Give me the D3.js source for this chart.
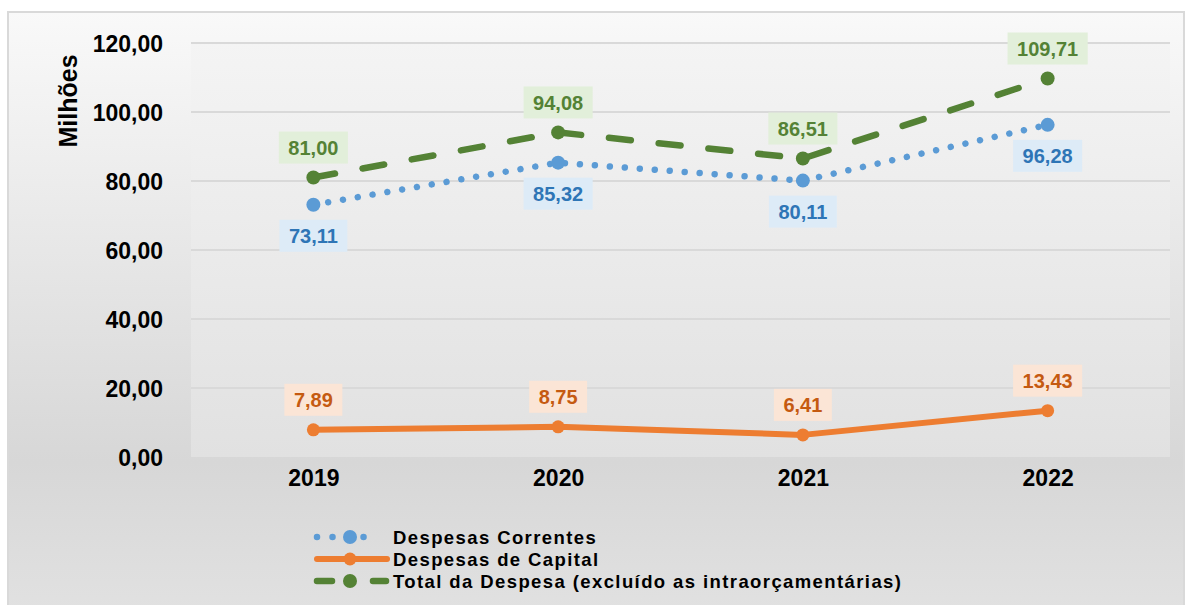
<!DOCTYPE html>
<html><head><meta charset="utf-8">
<script src="https://cdn.jsdelivr.net/npm/d3@7"></script>
<style>html,body{margin:0;padding:0;background:#fff;}svg{display:block;font-family:"Liberation Sans",Arial,sans-serif;}</style>
</head><body>
<svg id="c" width="1185" height="605"></svg>
<script>
const years = ["2019","2020","2021","2022"];
const correntes = [73.11, 85.32, 80.11, 96.28];
const capital = [7.89, 8.75, 6.41, 13.43];
const total = [81.00, 94.08, 86.51, 109.71];
const yTicks = [0,20,40,60,80,100,120];
const seriesNames = ["Despesas Correntes","Despesas de Capital","Total da Despesa (excluído as intraorçamentárias)"];

const svg = d3.select("#c");
const defs = svg.append("defs");
const g1 = defs.append("linearGradient").attr("id","bgOuter").attr("x1",0).attr("y1",0).attr("x2",0).attr("y2",1);
g1.append("stop").attr("offset","0%").attr("stop-color","#f9f9f9");
g1.append("stop").attr("offset","75%").attr("stop-color","#d7d7d7");
g1.append("stop").attr("offset","100%").attr("stop-color","#e1e1e1");
const g2 = defs.append("linearGradient").attr("id","bgPlot").attr("x1",0).attr("y1",0).attr("x2",0).attr("y2",1);
g2.append("stop").attr("offset","0%").attr("stop-color","#f4f4f4");
g2.append("stop").attr("offset","100%").attr("stop-color","#e1e1e1");

svg.append("rect").attr("x",8).attr("y",12).attr("width",1176).attr("height",600)
  .attr("fill","url(#bgOuter)").attr("stroke","#d9d9d9").attr("stroke-width",2);

const L = 191, R = 1170, T = 43, B = 457;
svg.append("rect").attr("x",L).attr("y",T).attr("width",R-L).attr("height",B-T).attr("fill","url(#bgPlot)");

const x = d3.scalePoint().domain(years).range([L,R]).padding(0.5);
const y = d3.scaleLinear().domain([0,120]).range([B,T]);

// gridlines
svg.append("g").selectAll("line").data(yTicks.filter(d=>d>0)).join("line")
  .attr("x1",L).attr("x2",R).attr("y1",d=>y(d)).attr("y2",d=>y(d))
  .attr("stroke","#d9d9d9").attr("stroke-width",2);

// y axis
const yAxis = svg.append("g").attr("transform",`translate(${163},0)`)
  .call(d3.axisLeft(y).tickValues(yTicks).tickSize(0).tickPadding(0)
    .tickFormat(d=>d3.format(".2f")(d).replace(".",",")));
yAxis.select(".domain").remove();
yAxis.selectAll("text").attr("font-size",23).attr("font-weight","bold").attr("fill","#000")
  .attr("font-family","Liberation Sans, Arial, sans-serif").attr("dy","0.36em");

// x axis
const xAxis = svg.append("g").attr("transform",`translate(0,${B})`)
  .call(d3.axisBottom(x).tickSize(0).tickPadding(0));
xAxis.select(".domain").remove();
xAxis.selectAll("text").attr("font-size",23).attr("font-weight","bold").attr("fill","#000")
  .attr("font-family","Liberation Sans, Arial, sans-serif").attr("dy","1.24em");

// y title
svg.append("text").attr("transform","translate(77,101) rotate(-90)")
  .attr("text-anchor","middle").attr("font-size",25).attr("font-weight","bold").text("Milhões");

const styles = [
  {data:correntes, color:"#5b9bd5", dash:"0.01 15", width:6.5, r:7, lab:"#2e75b6", box:"#ddebf7", off:31,
   lx1:317, lx2:379, ldash:"0.01 15.5"},
  {data:capital, color:"#ed7d31", dash:null, width:6, r:6.5, lab:"#c55a11", box:"#fbe5d6", off:-30,
   lx1:317, lx2:387, ldash:null},
  {data:total, color:"#548235", dash:"22 28", width:6.5, r:7, lab:"#548235", box:"#e2efda", off:-30,
   lx1:317, lx2:386, ldash:"15 41 13"}
];
const line = d3.line().x((d,i)=>x(years[i])).y(d=>y(d));

styles.forEach(s=>{
  svg.append("path").datum(s.data).attr("d",line).attr("fill","none")
    .attr("stroke",s.color).attr("stroke-width",s.width).attr("stroke-linecap","round")
    .attr("stroke-linejoin","round").attr("stroke-dasharray",s.dash);
  svg.append("g").selectAll("circle").data(s.data).join("circle")
    .attr("cx",(d,i)=>x(years[i])).attr("cy",d=>y(d)).attr("r",s.r).attr("fill",s.color);
});

// data labels
styles.forEach(s=>{
  const g = svg.append("g");
  s.data.forEach((v,i)=>{
    const cx = x(years[i]), cy = y(v)+s.off;
    const lg = g.append("g");
    const r = lg.append("rect").attr("fill",s.box);
    const t = lg.append("text").attr("x",cx).attr("y",cy).attr("dy","0.36em")
      .attr("text-anchor","middle").attr("font-size",20).attr("font-weight","bold")
      .attr("fill",s.lab).text(d3.format(".2f")(v).replace(".",","));
    const w = t.node().getComputedTextLength()+19;
    r.attr("x",cx-w/2).attr("y",cy-16).attr("width",w).attr("height",32);
  });
});

// legend
const legY = [537,559,581];
const lmid = 350;
styles.forEach((s,i)=>{
  const gy = legY[i];
  svg.append("line").attr("x1",s.lx1).attr("x2",s.lx2).attr("y1",gy).attr("y2",gy)
    .attr("stroke",s.color).attr("stroke-width",s.width).attr("stroke-linecap","round")
    .attr("stroke-dasharray",s.ldash);
  svg.append("circle").attr("cx",lmid).attr("cy",gy).attr("r",s.r).attr("fill",s.color);
  svg.append("text").attr("x",393).attr("y",gy).attr("dy","0.36em").attr("font-size",18.5)
    .attr("font-weight","bold").attr("letter-spacing",1.4)
    .attr("fill","#000").text(seriesNames[i]);
});
</script>
</body></html>
